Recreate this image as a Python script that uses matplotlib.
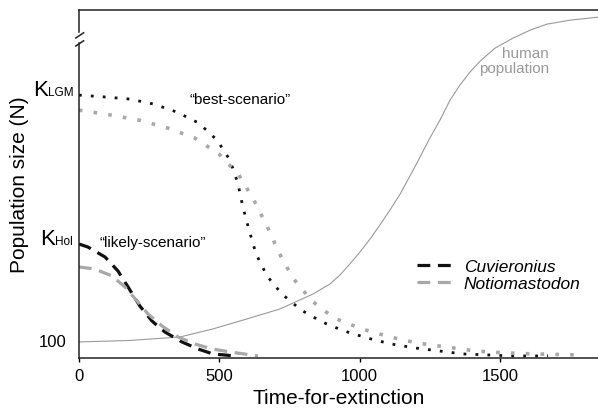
import numpy as np
import matplotlib.pyplot as plt
import matplotlib.transforms as mtransforms

plt.rcParams['font.family'] = 'Liberation Sans'

# Human population curve (time, N in arbitrary plot units)
human_t = [0, 182, 360, 477, 598, 716, 834, 894, 930, 965, 1001, 1037, 1072, 1108, 1144, 1179,
           1215, 1250, 1286, 1322, 1357, 1393, 1429, 1482, 1546, 1607, 1667, 1749, 1849]
human_n = [16, 17.5, 21, 29, 39, 49, 64, 74, 83, 94, 106, 119, 133, 148, 164, 182,
           201, 220, 238, 258, 273, 286, 297, 310, 320, 328, 334, 338, 341]

# "best-scenario" (starting at K_LGM)
best_cuv_t = [0, 100, 182, 267, 349, 427, 492, 538, 566, 584, 606, 631, 670, 723, 791, 866, 944, 1026, 1111, 1197, 1283, 1368, 1457, 1543, 1671]
best_cuv_n = [263, 261, 259, 254, 246, 235, 218, 198, 175, 151, 128, 104, 82, 64, 48, 36, 27, 20, 14, 10, 7, 4, 3, 2, 2]
best_not_t = [0, 114, 214, 317, 413, 499, 570, 623, 670, 713, 762, 830, 908, 1008, 1108, 1204, 1307, 1411, 1518, 1624, 1778]
best_not_n = [248, 243, 238, 230, 220, 204, 183, 158, 132, 105, 80, 57, 40, 29, 21, 15, 11, 7, 5, 4, 3]

# "likely-scenario" (starting at K_Hol)
likely_cuv_t = [0, 32, 93, 139, 175, 217, 260, 306, 367, 424, 477, 556]
likely_cuv_n = [114, 111, 101, 87, 71, 52, 37, 26, 16, 9, 4, 2]
likely_not_t = [0, 57, 118, 164, 207, 246, 296, 353, 413, 474, 538, 638]
likely_not_n = [91, 89, 82, 71, 57, 44, 32, 21, 14, 9, 6, 2]

ytick_pos = [16, 114, 263]
k_subs = ['Hol', 'LGM']
xtick_pos = [0, 500, 1000, 1500]

fig = plt.figure(figsize=(5.98, 4.14), dpi=100)
ax = fig.add_axes([0.132, 0.133, 0.868, 0.840])

gray = '#a8a8a8'
ax.plot(human_t, human_n, color='#9a9a9a', lw=0.8)
ax.plot(best_cuv_t, best_cuv_n, color='#111111', lw=2.0, dashes=(1, 3.3))
ax.plot(best_not_t, best_not_n, color=gray, lw=2.6, dashes=(1, 3.1))
ax.plot(likely_cuv_t, likely_cuv_n, color='#111111', lw=2.3, dashes=(4, 2.4), label='Cuvieronius')
ax.plot(likely_not_t, likely_not_n, color=gray, lw=2.3, dashes=(4, 2.4), label='Notiomastodon')

ax.set_xlim(0, 1849)
ax.set_ylim(0, 348)
ax.set_xticks(xtick_pos)
ax.tick_params(axis='x', direction='out', length=3, width=1, labelsize=12, pad=4)
ax.set_yticks([])

# y labels: 100, K_Hol, K_LGM
ytrans = ax.get_yaxis_transform()
ax.text(-0.023, ytick_pos[0], '100', transform=ytrans, ha='right', va='center', fontsize=12)
renderer = fig.canvas.get_renderer()
for pos, sub in zip(ytick_pos[1:], k_subs):
    t_sub = ax.text(-0.011, pos, sub, transform=ytrans, ha='right', va='baseline', fontsize=8.5)
    w = t_sub.get_window_extent(renderer).width
    k_trans = mtransforms.offset_copy(ytrans, fig=fig, x=-w, y=0, units='dots')
    ax.text(-0.011, pos, 'K', transform=k_trans, ha='right', va='baseline', fontsize=16)

ax.spines['right'].set_visible(False)
ax.spines['left'].set_visible(False)
for s in ['top', 'bottom']:
    ax.spines[s].set_linewidth(1.1)
    ax.spines[s].set_color('#222222')

# broken left spine
sp = dict(color='#222222', lw=1.1, transform=ax.transAxes, clip_on=False)
ax.plot([0, 0], [0, 0.905], **sp)
ax.plot([0, 0], [0.937, 1], **sp)
ax.plot([-0.006, 0.009], [0.920, 0.935], **sp)
ax.plot([-0.006, 0.009], [0.897, 0.912], **sp)

ax.set_xlabel('Time-for-extinction', fontsize=15, labelpad=4)
ax.set_ylabel('Population size (N)', fontsize=15, labelpad=36)

ax.text(395, 259, '\u201cbest-scenario\u201d', fontsize=11, ha='left', va='center')
ax.text(75, 116, '\u201clikely-scenario\u201d', fontsize=11, ha='left', va='center')
ax.text(1675, 298, 'human\npopulation', fontsize=11, ha='right', va='center',
        color='#9a9a9a', linespacing=1.1)

ax.legend(loc='upper left', bbox_to_anchor=(0.634, 0.311), frameon=False,
          prop={'style': 'italic', 'size': 12.5}, handlelength=2.3,
          handletextpad=0.4, labelspacing=0.15, borderpad=0)

plt.savefig('out.png', dpi=100)
